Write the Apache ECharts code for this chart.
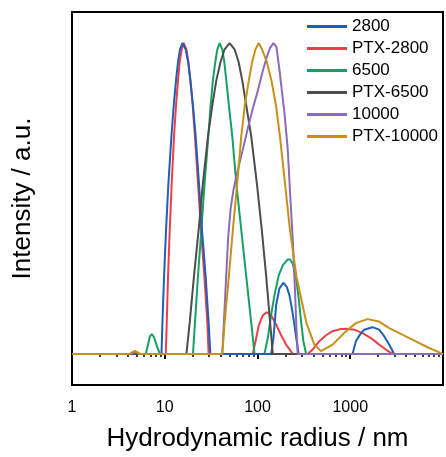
<!DOCTYPE html>
<html><head><meta charset="utf-8">
<script src="https://cdn.jsdelivr.net/npm/echarts@6/dist/echarts.min.js"></script>
<style>html,body{margin:0;padding:0;background:#fff}#c{width:446px;height:457px}</style>
</head><body><div id="c"></div>
<script>
// hydrodynamic radius (nm) / normalised intensity
const names = ['2800','PTX-2800','6500','PTX-6500','10000','PTX-10000'];
const colors = ['#1f5fb5','#ef3e47','#16a163','#4d4d4d','#8a6cb8','#c8901b'];

const x2800 = [1, 9.22, 9.44, 9.83, 10.33, 10.96, 11.80, 12.50, 13.23, 13.90, 14.60, 15.50, 16.82, 17.81, 18.90, 20.15, 21.54, 23.38, 25.18, 27.60, 29.72, 31.00,
  140.4, 148.6, 158.9, 172.4, 190.4, 206.6, 220.9, 236.1, 250.0, 264.6, 278.0,
  1058, 1151, 1272, 1414, 1737, 2050, 2321, 2627, 2973, 10000];
const y2800 = [0, 0, 0.1, 0.25, 0.4, 0.55, 0.7, 0.8, 0.88, 0.94, 0.98, 1.0, 0.98, 0.94, 0.88, 0.8, 0.7, 0.55, 0.4, 0.25, 0.1, 0,
  0, 0.051, 0.158, 0.211, 0.229, 0.216, 0.189, 0.142, 0.094, 0.041, 0,
  0, 0.041, 0.062, 0.078, 0.086, 0.078, 0.057, 0.030, 0, 0];

const xP2800 = [1, 10.25, 10.51, 10.85, 11.32, 11.89, 12.59, 13.23, 13.90, 14.50, 15.23, 16.01, 17.12, 17.98, 18.90, 20.00, 21.17, 22.81, 24.57, 26.73, 28.79, 29.72,
  89.0, 95.2, 103.3, 114.0, 125.9, 140.4, 158.9, 179.8, 203.5, 239.7,
  347.5, 393.3, 464.2, 547.8, 645.0, 761.6, 899.0, 1104, 1356, 1670, 2050, 2421, 2850, 10000];
const yP2800 = [0, 0, 0.1, 0.25, 0.4, 0.55, 0.7, 0.8, 0.88, 0.94, 0.98, 1.0, 0.98, 0.94, 0.88, 0.8, 0.7, 0.55, 0.4, 0.25, 0.1, 0,
  0, 0.041, 0.092, 0.124, 0.134, 0.124, 0.094, 0.060, 0.030, 0,
  0, 0.014, 0.041, 0.060, 0.073, 0.079, 0.081, 0.078, 0.067, 0.051, 0.030, 0.014, 0, 0];

const x6500 = [1, 6.25, 6.61, 6.90, 7.25, 7.61, 8.14, 8.84,
  20.15, 21.17, 22.81, 24.81, 26.92, 29.50, 31.24, 33.07, 35.10, 36.88, 39.04, 41.73, 43.84, 46.08, 49.15, 53.46, 59.02, 66.79, 75.58, 85.6, 92.84,
  118.9, 129.1, 140.4, 152.3, 169.4, 187.1, 211.8, 224.7, 239.7, 260.8, 278.0, 295.1, 312.3, 334.0, 10000];
const y6500 = [0, 0, 0.030, 0.056, 0.064, 0.056, 0.030, 0,
  0, 0.1, 0.25, 0.4, 0.55, 0.7, 0.8, 0.88, 0.94, 0.98, 1.0, 0.98, 0.94, 0.88, 0.8, 0.7, 0.55, 0.4, 0.25, 0.1, 0,
  0, 0.051, 0.126, 0.189, 0.253, 0.285, 0.304, 0.304, 0.291, 0.243, 0.179, 0.104, 0.041, 0, 0];

const xP6500 = [1, 17.12, 18.57, 20.66, 23.21, 25.81, 29.22, 32.58, 35.97, 40.02, 44.17, 50.01, 56.60, 62.47, 68.47, 75.58, 85.6, 98.3, 111.2, 124.0, 136.9, 146.1, 10000];
const yP6500 = [0, 0, 0.1, 0.25, 0.4, 0.55, 0.7, 0.8, 0.88, 0.94, 0.98, 1.0, 0.98, 0.94, 0.88, 0.8, 0.7, 0.55, 0.4, 0.25, 0.1, 0, 0];

const x10000 = [1, 4.20, 4.47, 4.76, 5.06, 5.38,
  41.73, 43.63, 45.85, 48.17, 51.26, 55.20, 60.95, 69.50, 78.07, 88.35, 100.0, 113.2, 125.0, 136.3, 148.6,
  160.1, 172.4, 195.2, 211.8, 226.4, 239.7, 253.1, 262.7, 271.3, 10000];
const y10000 = [0, 0, 0.003, 0.006, 0.003, 0,
  0, 0.115, 0.243, 0.371, 0.466, 0.530, 0.588, 0.658, 0.722, 0.786, 0.843, 0.907, 0.952, 0.984, 1.0,
  0.987, 0.914, 0.776, 0.658, 0.498, 0.371, 0.211, 0.083, 0, 0];

const xP10000 = [1, 4.20, 4.47, 4.76, 5.06, 5.38,
  41.73, 44.17, 49.15, 54.26, 60.48, 66.79, 73.01, 80.6, 87.7, 95.2, 103.3,
  111.8, 125.9, 141.4, 158.1, 174.6, 197.6, 223.6, 262.7, 336.5, 410.2, 484.1,
  645.0, 899.0, 1151, 1535, 2050, 2627, 4676, 7071, 10000];
const yP10000 = [0, 0, 0.006, 0.010, 0.006, 0,
  0, 0.1, 0.25, 0.4, 0.55, 0.7, 0.8, 0.88, 0.94, 0.98, 1.0,
  0.98, 0.94, 0.88, 0.8, 0.7, 0.55, 0.4, 0.25, 0.1, 0.030, 0.009,
  0.030, 0.073, 0.099, 0.112, 0.104, 0.083, 0.046, 0.019, 0];

const xTickLabels = ['1','10','100','1000'];

const seriesX = [x2800, xP2800, x6500, xP6500, x10000, xP10000];
const seriesY = [y2800, yP2800, y6500, yP6500, y10000, yP10000];
const drawOrder = [1, 2, 0, 3, 4, 5];

const FONT = 'Liberation Sans, Arial, sans-serif';
const chart = echarts.init(document.getElementById('c'));
chart.setOption({
  animation: false,
  grid: {left: 72, right: 2, top: 12, bottom: 69, show: true, borderColor: '#000', borderWidth: 2},
  legend: {
    data: names, orient: 'vertical', left: 307, top: 18, padding: 0,
    icon: 'rect', itemWidth: 40, itemHeight: 3, itemGap: 5,
    textStyle: {fontFamily: FONT, fontSize: 17, color: '#000'}
  },
  xAxis: {
    type: 'log', logBase: 10, min: 1, max: 10000,
    name: 'Hydrodynamic radius / nm', nameLocation: 'middle', nameGap: 41,
    nameTextStyle: {fontFamily: FONT, fontSize: 26, color: '#000'},
    axisLine: {lineStyle: {color: '#000', width: 2}},
    axisTick: {show: true, inside: false, length: 5, lineStyle: {color: '#000', width: 2}},
    minorTick: {show: true, splitNumber: 9, length: 3, lineStyle: {color: '#000', width: 1.5}},
    axisLabel: {fontFamily: FONT, fontSize: 16, color: '#000', margin: 15,
      formatter: v => xTickLabels.indexOf(String(v)) >= 0 ? String(v) : ''},
    splitLine: {show: false}, minorSplitLine: {show: false}
  },
  yAxis: {
    type: 'value', min: -0.1, max: 1.1,
    name: 'Intensity / a.u.', nameLocation: 'middle', nameGap: 36,
    nameTextStyle: {fontFamily: FONT, fontSize: 26, color: '#000'},
    axisLine: {show: true, lineStyle: {color: '#000', width: 2}},
    axisTick: {show: false}, axisLabel: {show: false}, splitLine: {show: false}
  },
  series: drawOrder.map(i => ({
    name: names[i], type: 'line', symbol: 'none', smooth: false,
    color: colors[i], lineStyle: {width: 2, color: colors[i]},
    data: seriesX[i].map((x, k) => [x, seriesY[i][k]])
  }))
});
</script></body></html>
